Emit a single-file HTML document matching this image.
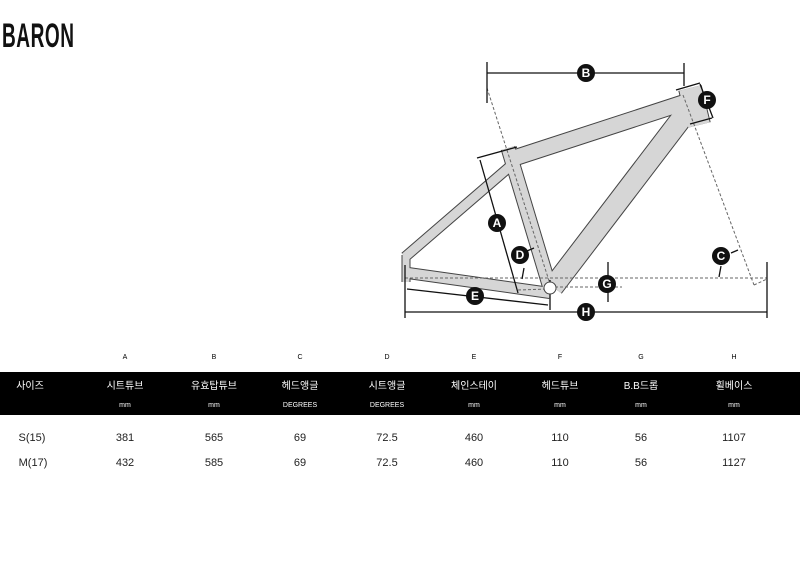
<!DOCTYPE html>
<html><head><meta charset="utf-8"><style>
body{margin:0;width:800px;height:564px;background:#fff;position:relative;overflow:hidden;font-family:"Liberation Sans","Noto Sans CJK KR",sans-serif}
.t{position:absolute;left:2px;top:17px;font-weight:bold;font-size:34px;transform:scaleX(.56);transform-origin:0 0;letter-spacing:1px;color:#111}
.band{position:absolute;left:0;top:372px;width:800px;height:43px;background:#000}
.c{position:absolute;font-size:10px;transform:translateX(-50%);white-space:nowrap}
.w{color:#fff}
.s{font-size:7px}
.d{font-size:11px;color:#222}
</style></head><body>
<div class="t">BARON</div>
<svg width="800" height="340" style="position:absolute;left:0;top:0">
<g stroke-linecap="butt" fill="none">
<g stroke="#444">
<line x1="508" y1="160" x2="692" y2="100" stroke-width="17"/>
<line x1="688" y1="110" x2="553" y2="287" stroke-width="22"/>
<line x1="508" y1="148" x2="550" y2="288" stroke-width="15"/>
<line x1="514" y1="163" x2="405" y2="257" stroke-width="11"/>
<line x1="408" y1="273" x2="550" y2="293" stroke-width="12"/>
<line x1="406" y1="255" x2="406" y2="282" stroke-width="9"/>
<line x1="690" y1="88" x2="699" y2="125" stroke-width="24"/>
</g>
<g stroke="#d6d6d6">
<line x1="508" y1="160" x2="692" y2="100" stroke-width="15"/>
<line x1="688" y1="110" x2="553" y2="287" stroke-width="20"/>
<line x1="508" y1="148" x2="550" y2="288" stroke-width="13"/>
<line x1="514" y1="163" x2="405" y2="257" stroke-width="9"/>
<line x1="408" y1="273" x2="550" y2="293" stroke-width="10"/>
<line x1="406" y1="255" x2="406" y2="282" stroke-width="7"/>
<line x1="690" y1="88" x2="699" y2="125" stroke-width="22"/>
</g>
<g stroke="#666" stroke-dasharray="3,2" stroke-width="1">
<line x1="487" y1="88" x2="552" y2="290"/>
<line x1="683" y1="95" x2="754" y2="285"/>
<line x1="754" y1="285" x2="767" y2="279"/>
<line x1="405" y1="278" x2="767" y2="278"/>
<line x1="555" y1="287" x2="622" y2="287"/>
<line x1="518" y1="290" x2="548" y2="289"/>
</g>
<g stroke="#111" stroke-width="1.3">
<line x1="487" y1="73" x2="684" y2="73"/>
<line x1="487" y1="62" x2="487" y2="103"/>
<line x1="684" y1="63" x2="684" y2="86"/>
<line x1="676" y1="90" x2="700" y2="83"/>
<line x1="690" y1="124" x2="712" y2="118"/>
<line x1="700" y1="84" x2="713" y2="118"/>
<line x1="477" y1="158" x2="517" y2="147"/>
<line x1="480" y1="160" x2="518" y2="293"/>
<line x1="407" y1="289" x2="548" y2="305"/>
<line x1="405" y1="312" x2="767" y2="312"/>
<line x1="405" y1="265" x2="405" y2="318"/>
<line x1="767" y1="262" x2="767" y2="318"/>
<line x1="550" y1="280" x2="550" y2="310"/>
<line x1="608" y1="262" x2="608" y2="302"/>
<line x1="524" y1="268" x2="522" y2="279"/>
<line x1="721" y1="266" x2="719" y2="277"/>
<line x1="731" y1="253" x2="738" y2="250"/>
<line x1="527" y1="251" x2="534" y2="248"/>
</g>
<circle cx="550" cy="288" r="6" fill="#fff" stroke="#444"/>
</g>
<g fill="#111" font-family="Liberation Sans" font-weight="bold" font-size="12" text-anchor="middle">
<circle cx="586" cy="73" r="9"/><circle cx="707" cy="100" r="9"/><circle cx="497" cy="223" r="9"/>
<circle cx="520" cy="255" r="9"/><circle cx="721" cy="256" r="9"/><circle cx="607" cy="284" r="9"/>
<circle cx="475" cy="296" r="9"/><circle cx="586" cy="312" r="9"/>
<g fill="#fff"><text x="586" y="77">B</text><text x="707" y="104">F</text><text x="497" y="227">A</text>
<text x="520" y="259">D</text><text x="721" y="260">C</text><text x="607" y="288">G</text>
<text x="475" y="300">E</text><text x="586" y="316">H</text></g>
</g>
</svg>
<div class="band"></div>
<div class="c s" style="left:125px;top:354px">A</div><div class="c s" style="left:214px;top:354px">B</div>
<div class="c s" style="left:300px;top:354px">C</div><div class="c s" style="left:387px;top:354px">D</div>
<div class="c s" style="left:474px;top:354px">E</div><div class="c s" style="left:560px;top:354px">F</div>
<div class="c s" style="left:641px;top:354px">G</div><div class="c s" style="left:734px;top:354px">H</div>
<div class="c w" style="left:30px;top:377px">사이즈</div>
<div class="c w" style="left:125px;top:377px">시트튜브</div><div class="c w" style="left:214px;top:377px">유효탑튜브</div>
<div class="c w" style="left:300px;top:377px">헤드앵글</div><div class="c w" style="left:387px;top:377px">시트앵글</div>
<div class="c w" style="left:474px;top:377px">체인스테이</div><div class="c w" style="left:560px;top:377px">헤드튜브</div>
<div class="c w" style="left:641px;top:377px">B.B드롭</div><div class="c w" style="left:734px;top:377px">휠베이스</div>
<div class="c w s" style="left:125px;top:402px">mm</div><div class="c w s" style="left:214px;top:402px">mm</div>
<div class="c w s" style="left:300px;top:402px">DEGREES</div><div class="c w s" style="left:387px;top:402px">DEGREES</div>
<div class="c w s" style="left:474px;top:402px">mm</div><div class="c w s" style="left:560px;top:402px">mm</div>
<div class="c w s" style="left:641px;top:402px">mm</div><div class="c w s" style="left:734px;top:402px">mm</div>
<div class="c d" style="left:32px;top:432px">S(15)</div><div class="c d" style="left:125px;top:432px">381</div>
<div class="c d" style="left:214px;top:432px">565</div><div class="c d" style="left:300px;top:432px">69</div>
<div class="c d" style="left:387px;top:432px">72.5</div><div class="c d" style="left:474px;top:432px">460</div>
<div class="c d" style="left:560px;top:432px">110</div><div class="c d" style="left:641px;top:432px">56</div>
<div class="c d" style="left:734px;top:432px">1107</div>
<div class="c d" style="left:33px;top:457px">M(17)</div><div class="c d" style="left:125px;top:457px">432</div>
<div class="c d" style="left:214px;top:457px">585</div><div class="c d" style="left:300px;top:457px">69</div>
<div class="c d" style="left:387px;top:457px">72.5</div><div class="c d" style="left:474px;top:457px">460</div>
<div class="c d" style="left:560px;top:457px">110</div><div class="c d" style="left:641px;top:457px">56</div>
<div class="c d" style="left:734px;top:457px">1127</div>
</body></html>
